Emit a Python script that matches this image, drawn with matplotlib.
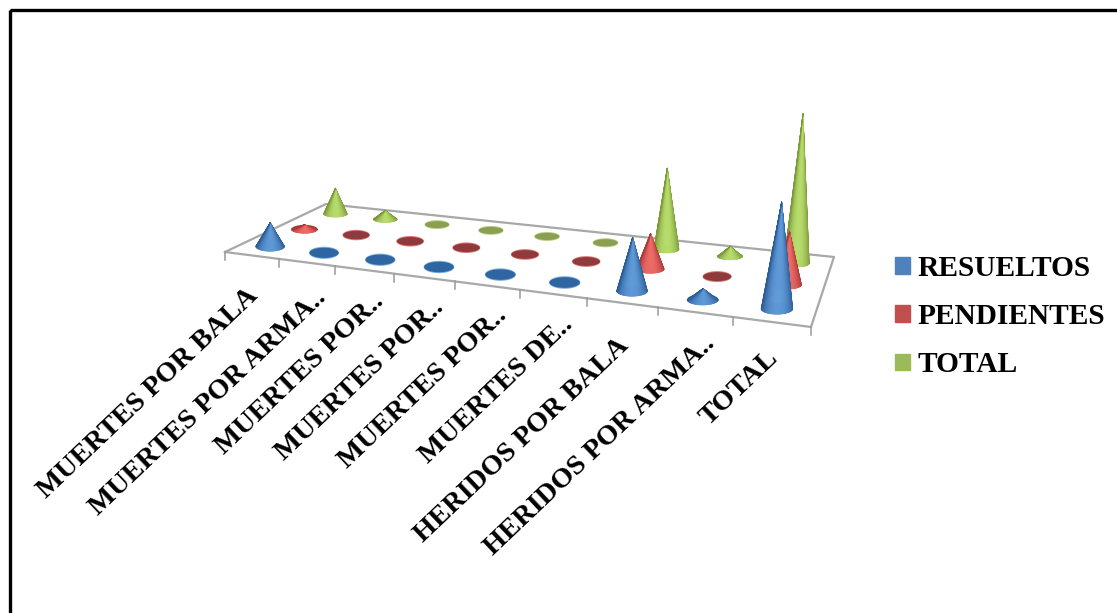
import numpy as np
import matplotlib
matplotlib.use('Agg')
import matplotlib.pyplot as plt
from matplotlib.collections import PolyCollection
from matplotlib.patches import Patch, Rectangle

plt.rcParams['font.family'] = ['Liberation Serif', 'DejaVu Serif']

categories = ['MUERTES POR BALA', 'MUERTES POR ARMA..', 'MUERTES POR..', 'MUERTES POR..',
              'MUERTES POR..', 'MUERTES DE..', 'HERIDOS POR BALA', 'HERIDOS POR ARMA..', 'TOTAL']
resueltos = [5, 0, 0, 0, 0, 0, 10, 2, 19]
pendientes = [1, 0, 0, 0, 0, 0, 7, 0, 10]
total = [6, 2, 0, 0, 0, 0, 17, 2, 30]

series_names = ['RESUELTOS', 'PENDIENTES', 'TOTAL']
series_values = [resueltos, pendientes, total]
legend_colors = ['#4f81bd', '#c0504d', '#9bbb59']
dark_colors = ['#2c5c96', '#a83836', '#7b983a']
light_colors = ['#5f9ad8', '#ee6c68', '#b8dc6c']
flat_colors = ['#2f65a0', '#8f3a3c', '#8a9f52']
rim_colors = ['#7fb0e0', '#e07a76', '#bcd48a']

#corners of the floor in the picture: front left, front right, back right, back left
floor = np.array([[225, 252], [811, 327], [834, 257], [326, 204]], dtype=float)

#perspective mapping from the unit square to the floor
sx, sy = floor[0] - floor[1] + floor[2] - floor[3]
dx1, dy1 = floor[1] - floor[2]
dx2, dy2 = floor[3] - floor[2]
det = dx1 * dy2 - dx2 * dy1
g = (sx * dy2 - dx2 * sy) / det
h = (dx1 * sy - sx * dy1) / det
a = floor[1] - floor[0] + g * floor[1]
b = floor[3] - floor[0] + h * floor[3]


def project(u, v):
    w = 1 + g * u + h * v
    return (a * u + b * v + floor[0]) / w, 1 / w


PX_PER_UNIT = 4.75
n_cat = len(categories)
row_depth = [1 / 6, 1 / 2, 5 / 6]
row_radius = [14.5, 13.5, 12.5]

fig = plt.figure(figsize=(11.17, 6.13), dpi=100)
ax = fig.add_axes([0, 0, 1, 1])
ax.set_xlim(0, 1117)
ax.set_ylim(613, 0)
ax.axis('off')

#black frame, runs off the right and the bottom of the picture
ax.add_patch(Rectangle((9.5, 9.5), 1200, 700, fill=False, edgecolor='black', linewidth=2.4))

#floor and ticks
ax.fill(floor[:, 0], floor[:, 1], color='white', zorder=1)
ax.plot(*np.vstack([floor, floor[:1]]).T, color='#a8a8a8', linewidth=1.6, zorder=2)
for i in range(n_cat + 1):
    p, _ = project(i / n_cat, 0)
    ax.plot([p[0], p[0]], [p[1], p[1] + 8], color='#999999', linewidth=1.1, zorder=2)


def draw_cone(u, v, value, s):
    base, scale = project(u, v)
    rx = row_radius[s] * scale ** 0.5
    ry = rx * (0.35 - 0.03 * s)
    height = value * PX_PER_UNIT * scale
    angles = np.linspace(0, 2 * np.pi, 60)
    ex = base[0] + rx * np.cos(angles)
    ey = base[1] + ry * np.sin(angles)
    if value == 0:
        ax.fill(base[0] + (rx + 0.5) * np.cos(angles), base[1] + (ry + 1.0) * np.sin(angles),
                color=rim_colors[s], linewidth=0, zorder=3)
        ax.fill(ex, ey, color=flat_colors[s], linewidth=0, zorder=3)
        return
    ax.fill(ex, ey, color=dark_colors[s], linewidth=0, zorder=3)
    lean = max(0, 0.15 * (u - 0.65))
    tip = (base[0] + lean * height, base[1] - height)
    #thin slices from the tip to the front half of the base, lit from the front
    t = np.linspace(0, np.pi, 41)
    polys = []
    colors = []
    dark = np.array(matplotlib.colors.to_rgb(dark_colors[s]))
    light = np.array(matplotlib.colors.to_rgb(light_colors[s]))
    for t0, t1 in zip(t[:-1], t[1:]):
        polys.append([tip,
                      (base[0] + rx * np.cos(t0), base[1] + ry * np.sin(t0)),
                      (base[0] + rx * np.cos(t1), base[1] + ry * np.sin(t1))])
        mix = np.sin(0.5 * (t0 + t1)) ** 1.5
        colors.append(dark + (light - dark) * mix)
    ax.add_collection(PolyCollection(polys, facecolors=colors, edgecolors=colors,
                                     linewidths=0.5, zorder=3))


#back row first so the front rows cover it
for s in [2, 1, 0]:
    for i in range(n_cat):
        draw_cone((i + 0.5) / n_cat, row_depth[s], series_values[s][i], s)

#category labels hang off the middle of each front step
label_drop = [37, 32, 28, 26.5, 26, 27, 39, 28, 33]
for i, label in enumerate(categories):
    p, _ = project((i + 0.5) / n_cat, 0)
    shift = 16 if label.endswith('..') else 3
    ax.text(p[0] + shift, p[1] + label_drop[i], label, rotation=43.5, rotation_mode='anchor',
            ha='right', va='center', fontsize=20.5, fontweight='bold', color='black', zorder=5)

handles = [Patch(color=c) for c in legend_colors]
ax.legend(handles, series_names, loc='upper left', bbox_to_anchor=(895 / 1117, 1 - 255 / 613),
          frameon=False, borderpad=0, borderaxespad=0,
          prop={'size': 21.2, 'weight': 'bold'}, handlelength=0.5, handleheight=0.5,
          handletextpad=0.25, labelspacing=0.72)

plt.savefig('out.png', dpi=100)
